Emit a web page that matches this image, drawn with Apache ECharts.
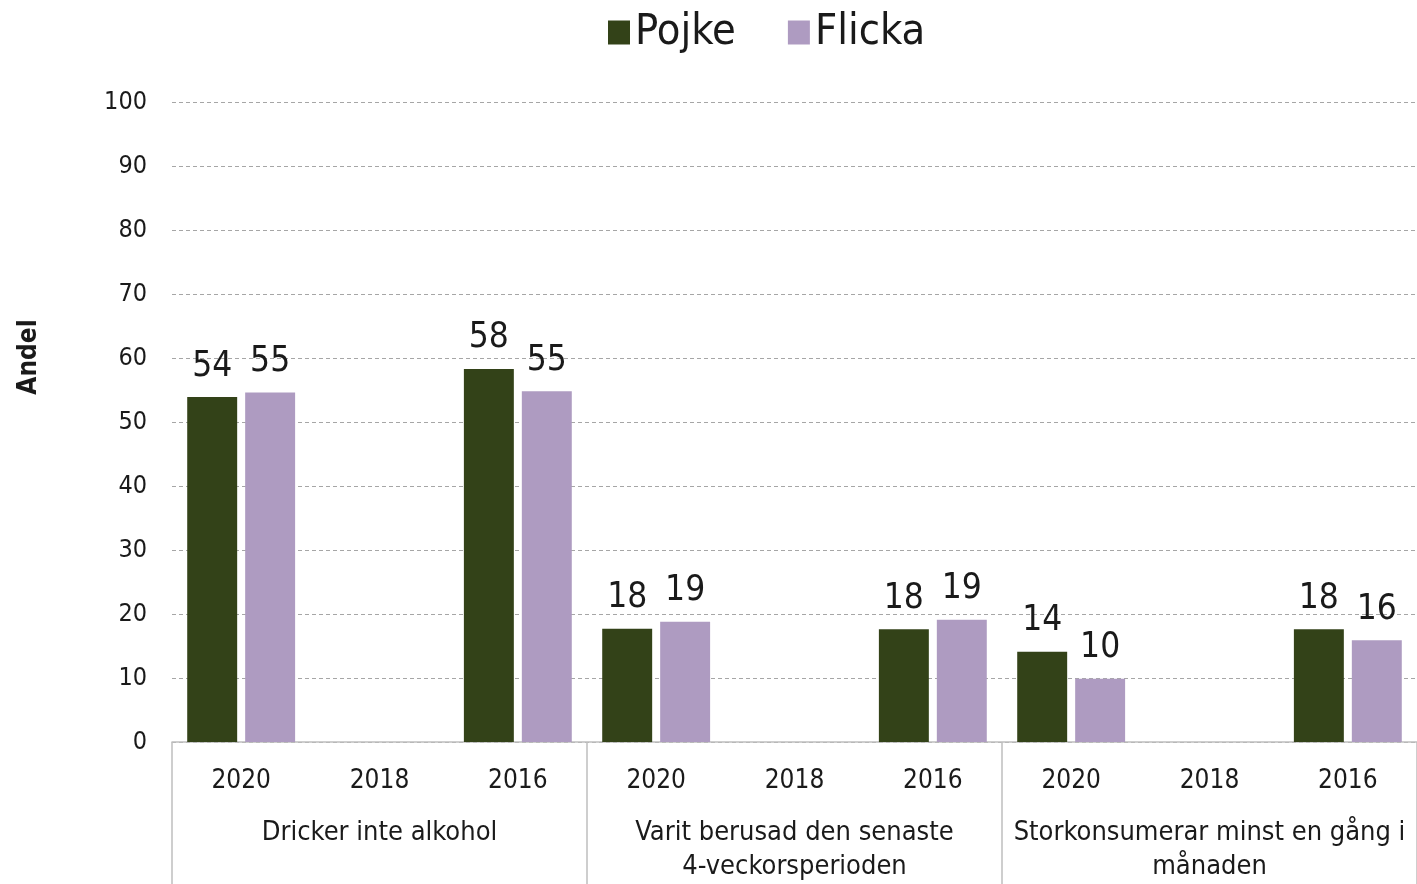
<!DOCTYPE html>
<html>
<head>
<meta charset="utf-8">
<script src="https://cdn.jsdelivr.net/npm/echarts@6/dist/echarts.min.js"></script>
<style>
  html, body { margin: 0; padding: 0; background: #fff; }
  #chart { width: 1417px; height: 884px; }
</style>
</head>
<body>
<div id="chart"></div>
<script>
// years per group and the three question groups
const years = ['2020', '2018', '2016', '2020', '2018', '2016', '2020', '2018', '2016']
const groups = ['Dricker inte alkohol', 'Varit berusad den senaste\n4-veckorsperioden', 'Storkonsumerar minst en gång i\nmånaden']
// 2018 saknas
const pojke = [53.9, null, 58.3, 17.7, null, 17.6, 14.1, null, 17.6]
const flicka = [54.6, null, 54.8, 18.8, null, 19.1, 9.9, null, 15.9]
const yTicks = [0, 10, 20, 30, 40, 50, 60, 70, 80, 90, 100]

const font = '"DejaVu Sans Condensed", "DejaVu Sans", sans-serif'
const txt = '#1a1a1a'

const barLabel = {
  show: true,
  position: 'top',
  distance: 13,
  fontSize: 35,
  color: txt,
  fontFamily: font,
  formatter: (p) => Math.round(p.value)
}

const chart = echarts.init(document.getElementById('chart'))
chart.setOption({
  animation: false,
  textStyle: { fontFamily: font },
  legend: {
    top: 6,
    left: 603,
    icon: 'rect',
    itemWidth: 22,
    itemHeight: 24,
    itemGap: 52,
    textStyle: { fontSize: 43, color: txt, fontFamily: font },
    data: ['Pojke', 'Flicka']
  },
  grid: { left: 172, right: 0, top: 102, bottom: 142, outerBoundsMode: 'none' },
  xAxis: [
    {
      type: 'category',
      data: years,
      axisLine: { lineStyle: { color: '#bfbfbf', width: 1.5 } },
      axisTick: { show: false },
      axisLabel: { margin: 26, fontSize: 26, color: txt, fontFamily: font, interval: 0 }
    },
    {
      type: 'category',
      data: groups,
      position: 'bottom',
      axisLine: { show: false },
      axisTick: { show: true, length: 142, lineStyle: { color: '#bfbfbf', width: 1.5 } },
      axisLabel: {
        margin: 74,
        fontSize: 27,
        lineHeight: 34,
        color: txt,
        fontFamily: font,
        interval: 0,
        verticalAlign: 'top'
      }
    }
  ],
  yAxis: {
    type: 'value',
    min: yTicks[0],
    max: yTicks[yTicks.length - 1],
    interval: 10,
    name: 'Andel',
    nameLocation: 'middle',
    nameRotate: 90,
    nameGap: 130,
    nameTextStyle: { fontSize: 26, fontWeight: 'bold', color: txt, fontFamily: font, padding: [0, 0, 0, 130] },
    axisLine: { show: false },
    axisTick: { show: false },
    axisLabel: { margin: 25, fontSize: 25, color: txt, fontFamily: font },
    splitLine: { lineStyle: { color: '#a6a6a6', type: [4, 3], width: 1 } }
  },
  series: [
    {
      name: 'Pojke',
      type: 'bar',
      data: pojke,
      barGap: '16%',
      barCategoryGap: '22%',
      itemStyle: { color: '#334218' },
      label: barLabel
    },
    {
      name: 'Flicka',
      type: 'bar',
      data: flicka,
      itemStyle: { color: '#ae9bc1' },
      label: barLabel
    }
  ]
})
</script>
</body>
</html>
